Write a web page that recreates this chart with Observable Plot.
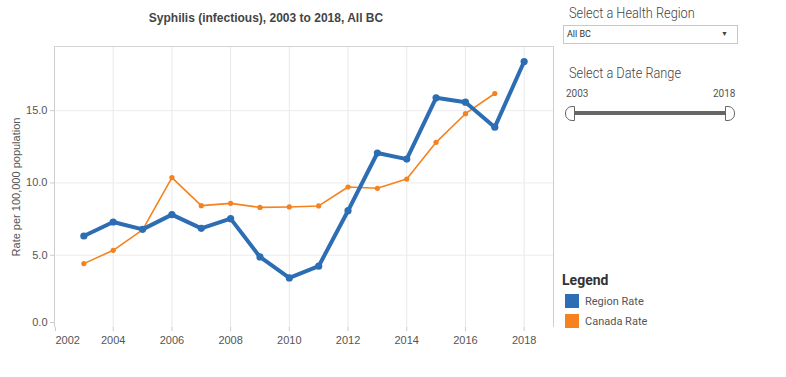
<!DOCTYPE html>
<html><head><meta charset="utf-8">
<script src="https://cdn.jsdelivr.net/npm/d3@7"></script>
<script src="https://cdn.jsdelivr.net/npm/@observablehq/plot@0.6"></script>
<style>
body{margin:0;background:#fff;font-family:"Liberation Sans",Arial,sans-serif;}
#wrap{position:relative;width:786px;height:377px;overflow:hidden;}
#chart{position:absolute;left:0;top:0;}
.abs{position:absolute;white-space:nowrap;}
.ctl{font-family:Roboto,sans-serif;font-weight:300;}
.narrow{transform:scaleX(0.88);transform-origin:left center;}
</style></head>
<body><div id="wrap">
<div id="chart"></div>
<div class="abs" style="left:0;width:532px;top:11px;text-align:center;font-weight:bold;font-size:12px;color:#444;">Syphilis (infectious), 2003 to 2018, All BC</div>
<div class="abs ctl narrow" style="left:569px;top:5px;font-size:14.5px;color:#444;">Select a Health Region</div>
<div class="abs ctl" style="left:563px;top:25px;width:170px;height:17px;border:1px solid #c8c8c8;font-size:9px;color:#333;line-height:17px;padding-left:3px;box-sizing:content-box;font-weight:400;">All BC<span style="position:absolute;right:9px;top:0;font-size:7px;color:#444;">&#9660;</span></div>
<div class="abs ctl narrow" style="left:569px;top:65px;font-size:14.5px;color:#444;">Select a Date Range</div>
<div class="abs ctl" style="left:566px;top:88px;font-size:10px;color:#555;font-weight:400;">2003</div>
<div class="abs ctl" style="left:713px;top:88px;font-size:10px;color:#555;font-weight:400;">2018</div>
<div class="abs" style="left:570px;top:111px;width:160px;height:4px;background:#666;"></div>
<div class="abs" style="left:565px;top:106px;width:8px;height:13px;border:1px solid #666;border-radius:7px 0 0 7px;background:#fff;"></div>
<div class="abs" style="left:725px;top:106px;width:8px;height:13px;border:1px solid #666;border-radius:0 7px 7px 0;background:#fff;"></div>
<div id="legend" class="abs" style="left:562px;top:272px;font-family:Roboto,sans-serif;"></div>
</div>
<script>
const years = [2003,2004,2005,2006,2007,2008,2009,2010,2011,2012,2013,2014,2015,2016,2017,2018];
const regionRate = [6.33,7.30,6.79,7.81,6.86,7.53,4.88,3.43,4.24,8.08,12.07,11.65,15.89,15.59,13.86,18.40];
const canadaYears = [2003,2004,2005,2006,2007,2008,2009,2010,2011,2012,2013,2014,2015,2016,2017];
const canadaRate = [4.42,5.34,6.75,10.37,8.43,8.59,8.31,8.34,8.41,9.72,9.63,10.27,12.81,14.79,16.19];
const seriesNames = ["Region Rate","Canada Rate"];
const seriesColors = ["#2c6db3","#f5821f"];
const xTicks = [2002,2004,2006,2008,2010,2012,2014,2016,2018];
const yTicks = [0,5,10,15];

const region = years.map((y,i)=>({year:y, rate:regionRate[i]}));
const canada = canadaYears.map((y,i)=>({year:y, rate:canadaRate[i]}));
const yMax = 19.44, xMin = 2002, xMax = 2019;
const axisStyle = {stroke: "#ccc", fill: "#555", label: null};

const chart = Plot.plot({
  width: 560, height: 377,
  marginLeft: 54, marginRight: 7, marginTop: 46, marginBottom: 50,
  style: {fontFamily: '"Liberation Sans",Arial,sans-serif', fontSize: "11px", color: "#555", background: "#fff"},
  x: {domain: [xMin, xMax], label: null},
  y: {domain: [0, yMax], label: null},
  marks: [
    Plot.gridX(xTicks, {stroke: "#e8e8e8", strokeOpacity: 1, y1: 0, y2: yMax}),
    Plot.gridY(yTicks.filter(d=>d>0), {stroke: "#ececec", strokeOpacity: 1}),
    Plot.ruleY([yMax], {stroke: "#d4d4d4"}),
    Plot.ruleX([xMin], {stroke: "#cfcfcf", y1: 0, y2: yMax}),
    Plot.ruleX([xMax], {stroke: "#cfcfcf", y1: 0, y2: yMax}),
    Plot.axisX(xTicks.slice(1), {...axisStyle, tickFormat: "d", tickSize: 4, tickPadding: 5}),
    Plot.axisX([xTicks[0]], {...axisStyle, tickFormat: "d", tickSize: 4, tickPadding: 5, textAnchor: "start", dx: 1}),
    Plot.axisY(yTicks.slice(1), {...axisStyle, tickFormat: ".1f", tickSize: 4, tickPadding: 3}),
    Plot.axisY([yTicks[0]], {...axisStyle, tickFormat: ".1f", tickSize: 4, tickPadding: 3, dy: -5}),
    Plot.axisY({ticks: [], label: "Rate per 100,000 population", labelAnchor: "center", labelArrow: "none", labelOffset: 42, fill: "#555"}),
    Plot.line(canada, {x: "year", y: "rate", stroke: seriesColors[1], strokeWidth: 1.6}),
    Plot.dot(canada, {x: "year", y: "rate", fill: seriesColors[1], r: 2.6}),
    Plot.line(region, {x: "year", y: "rate", stroke: seriesColors[0], strokeWidth: 4, strokeLinejoin: "round"}),
    Plot.dot(region, {x: "year", y: "rate", fill: seriesColors[0], r: 3.6})
  ]
});
document.getElementById("chart").appendChild(chart);

const lg = document.getElementById("legend");
lg.innerHTML = '<div style="font-weight:bold;font-size:14px;color:#333;margin-bottom:3px;">Legend</div>' +
  seriesNames.map((n,i)=>`<div style="display:flex;align-items:center;height:20px;margin-left:3px;"><span style="display:inline-block;width:14px;height:14px;background:${seriesColors[i]};margin-right:6px;"></span><span style="font-size:11px;color:#555;">${n}</span></div>`).join("");
</script>
</body></html>
